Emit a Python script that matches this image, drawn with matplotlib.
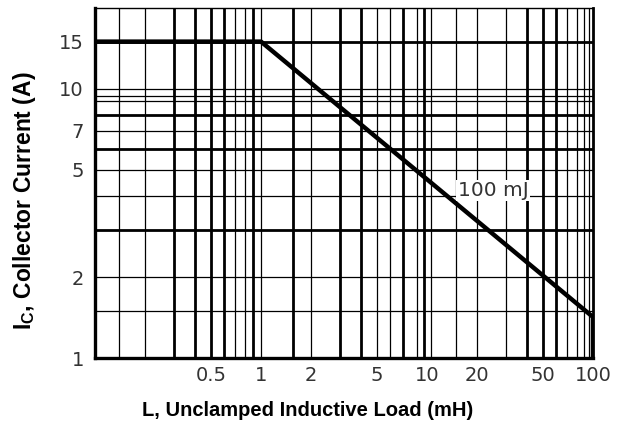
import matplotlib
matplotlib.use("Agg")
import matplotlib.pyplot as plt

plt.rcParams['font.family'] = ['Liberation Sans', 'DejaVu Sans']
plt.rcParams['mathtext.fontset'] = 'custom'
plt.rcParams['mathtext.rm'] = 'Liberation Sans'
plt.rcParams['mathtext.bf'] = 'Liberation Sans:bold'

# Data: unclamped inductive load vs collector current (100 mJ line)
inductance_mH = [0.1, 1, 100, 100]
current_A = [15, 15, 1.42, 1.0]

x_ticks = [0.5, 1, 2, 5, 10, 20, 50, 100]
x_tick_labels = ['0.5', '1', '2', '5', '10', '20', '50', '100']
y_ticks = [1, 2, 5, 7, 10, 15]
y_tick_labels = ['1', '2', '5', '7', '10', '15']

# Grid lines as drawn in the chart (thin / thick)
x_grid_thin = [0.14, 0.2, 0.7, 0.8, 1, 2, 5, 6, 8.7, 10.5, 15, 20, 30, 70, 80, 88, 95]
x_grid_thick = [0.3, 0.4, 0.5, 0.6, 0.9, 1.55, 3, 4, 7.2, 9.6, 40, 50, 60]
y_grid_thin = [1.5, 2, 4, 5, 7, 9, 9.4, 10]
y_grid_thick = [3, 6, 8, 15]

fig = plt.figure(figsize=(6.33, 4.29), dpi=100)
ax = fig.add_axes([95/633, 1 - 358/429, (593-95)/633, (358-8)/429])
ax.set_xscale('log')
ax.set_yscale('log')
ax.set_xlim(0.1, 100)
ax.set_ylim(1, 20)

for xv in x_grid_thin:
    ax.axvline(xv, color='black', lw=0.9, zorder=1)
for xv in x_grid_thick:
    ax.axvline(xv, color='black', lw=2.0, zorder=1)
for yv in y_grid_thin:
    ax.axhline(yv, color='black', lw=0.9, zorder=1)
for yv in y_grid_thick:
    ax.axhline(yv, color='black', lw=2.0, zorder=1)

ax.plot(inductance_mH, current_A, color='black', lw=3.2, solid_capstyle='butt',
        solid_joinstyle='miter', zorder=3)

ax.text(25, 4.2, '100 mJ', fontsize=14.5, family='DejaVu Sans', color='#333333',
        ha='center', va='center',
        bbox=dict(facecolor='white', edgecolor='none', pad=0.8), zorder=4)

ax.minorticks_off()
ax.set_xticks(x_ticks)
ax.set_xticklabels(x_tick_labels)
ax.set_yticks(y_ticks)
ax.set_yticklabels(y_tick_labels)
ax.tick_params(axis='both', length=0, labelsize=14, labelcolor='#333333')
for lab in ax.get_xticklabels() + ax.get_yticklabels():
    lab.set_family('DejaVu Sans')
ax.tick_params(axis='x', pad=6)
ax.tick_params(axis='y', pad=8)

ax.spines['left'].set_linewidth(2.4)
ax.spines['bottom'].set_linewidth(2.4)
ax.spines['top'].set_linewidth(1.0)
ax.spines['right'].set_linewidth(2.0)

ax.set_xlabel('L, Unclamped Inductive Load (mH)', fontsize=14.5, fontweight='bold')
ax.xaxis.set_label_coords(0.426, -0.15)
ax.xaxis.label.set_va('center')
ax.set_ylabel(r'$\mathbf{I_C}$, Collector Current (A)', fontsize=16.5, fontweight='bold')
ax.yaxis.set_label_coords(-0.141, 0.449)
ax.yaxis.label.set_va('center')

fig.savefig('out.png', dpi=100)
